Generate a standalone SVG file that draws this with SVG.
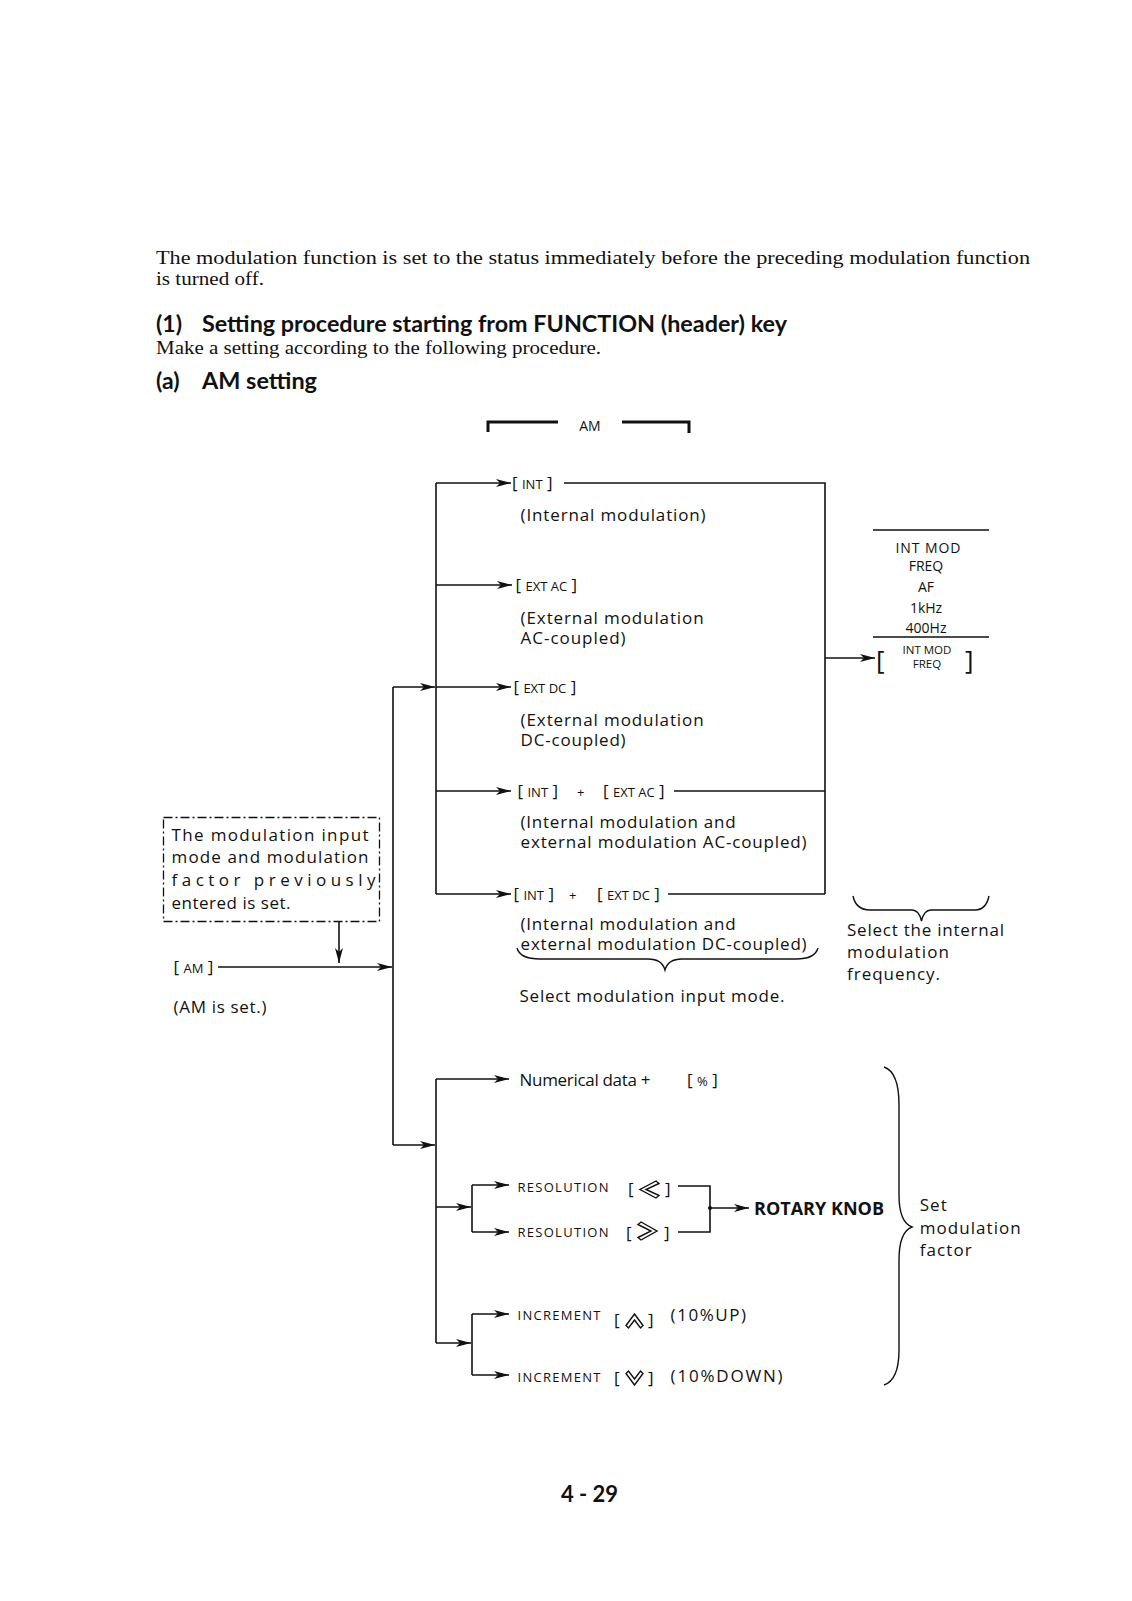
<svg xmlns="http://www.w3.org/2000/svg" width="1132" height="1601" viewBox="0 0 1132 1601">
<style>
.t{font-family:"Open Sans","Liberation Sans",sans-serif;font-size:17px;font-weight:500;fill:#111}
.sm{font-size:13px}
.tab{font-family:"Open Sans","Liberation Sans",sans-serif;font-size:14px;fill:#111}
.tab2{font-family:"Open Sans","Liberation Sans",sans-serif;font-size:11.5px;fill:#111}
.big{font-size:26px}
.serif{font-family:"Liberation Serif",serif;font-size:18.5px;fill:#111}
.h{font-family:Lato,"Liberation Sans",sans-serif;font-weight:bold;font-size:23px;fill:#111}
.pg{font-size:22px}
.bold{font-family:"Open Sans","Liberation Sans",sans-serif;font-weight:bold;font-size:18px;fill:#111}
.ln{stroke:#111;stroke-width:1.6;fill:none}
.br{stroke:#111;stroke-width:1.4;fill:none}
.ic{stroke:#111;stroke-width:1.4;fill:none;stroke-linejoin:miter}
.arr{marker-end:url(#ah)}
.thick{stroke:#111;stroke-width:3;fill:none}
.dd{stroke:#111;stroke-width:1.3;fill:none;stroke-dasharray:9 3 2 3}
</style>
<defs>
<marker id="ah" markerUnits="userSpaceOnUse" markerWidth="16" markerHeight="10" viewBox="0 0 16 10" refX="15" refY="5" orient="auto"><path d="M0,1 L15,5 L0,9 L4,5 Z" fill="#111"/></marker>
</defs>
<rect width="1132" height="1601" fill="#fff"/>

<g id="intro">
<text class="serif" x="156" y="264" textLength="874" lengthAdjust="spacingAndGlyphs">The modulation function is set to the status immediately before the preceding modulation function</text>
<text class="serif" x="156" y="285" textLength="108" lengthAdjust="spacingAndGlyphs">is turned off.</text>
</g>
<g id="heading-1">
<text class="h" x="156" y="332">(1)</text>
<text class="h" x="202" y="332" textLength="585" lengthAdjust="spacingAndGlyphs">Setting procedure starting from FUNCTION (header) key</text>
<text class="serif" x="156" y="354" textLength="445" lengthAdjust="spacingAndGlyphs">Make a setting according to the following procedure.</text>
</g>
<g id="heading-a">
<text class="h" x="156" y="389">(a)</text>
<text class="h" x="202" y="389" textLength="115" lengthAdjust="spacingAndGlyphs">AM setting</text>
</g>

<g id="am-header">
<path class="thick" d="M488,432 V422 H558 M622,422 H689 V433"/>
<text class="tab" x="590" y="431" text-anchor="middle">AM</text>
</g>

<g id="connectors">
<path class="ln" d="M436,483 V894"/>
<path class="ln arr" d="M436,483 H511"/>
<path class="ln" d="M564,483 H825 V894"/>
<path class="ln" d="M674,791 H825"/>
<path class="ln" d="M668,894 H825"/>
<path class="ln arr" d="M825,658 H875"/>
<path class="ln arr" d="M436,585 H512"/>
<path class="ln arr" d="M393,687 H435"/>
<path class="ln arr" d="M436,687 H511"/>
<path class="ln arr" d="M436,791 H511"/>
<path class="ln arr" d="M436,894 H511"/>
<path class="ln" d="M393,687 V1145"/>
<path class="ln arr" d="M218,967 H392"/>
<path class="ln arr" d="M339,922 V963"/>
<path class="ln arr" d="M393,1145 H435"/>
<path class="ln" d="M436,1079 V1343"/>
<path class="ln arr" d="M436,1079 H509"/>
<path class="ln arr" d="M436,1207 H471"/>
<path class="ln" d="M472,1185 V1232"/>
<path class="ln arr" d="M472,1185 H509"/>
<path class="ln arr" d="M472,1232 H509"/>
<path class="ln" d="M678,1186 H710 V1232 H678"/>
<circle cx="710" cy="1208" r="2" fill="#111"/>
<path class="ln arr" d="M710,1208 H749"/>
<path class="ln arr" d="M436,1343 H471"/>
<path class="ln" d="M472,1314 V1375"/>
<path class="ln arr" d="M472,1314 H509"/>
<path class="ln arr" d="M472,1375 H509"/>
</g>

<g id="n-int">
<text class="t" x="512" y="489">[ <tspan class="sm">INT</tspan> ]</text>
<text class="t" x="520.6" y="521" textLength="185" lengthAdjust="spacing">(Internal modulation)</text>
</g>
<g id="n-ext-ac">
<text class="t" x="515.5" y="591">[ <tspan class="sm">EXT AC</tspan> ]</text>
<text class="t" x="520.6" y="624" textLength="183" lengthAdjust="spacing">(External modulation</text>
<text class="t" x="520.6" y="644" textLength="105" lengthAdjust="spacing">AC-coupled)</text>
</g>
<g id="n-ext-dc">
<text class="t" x="513.4" y="693">[ <tspan class="sm">EXT DC</tspan> ]</text>
<text class="t" x="520.6" y="726" textLength="183" lengthAdjust="spacing">(External modulation</text>
<text class="t" x="520.6" y="746" textLength="105" lengthAdjust="spacing">DC-coupled)</text>
</g>
<g id="n-int-ext-ac">
<text class="t" x="517.5" y="797">[ <tspan class="sm">INT</tspan> ]</text>
<text class="t sm" x="577" y="797">+</text>
<text class="t" x="603" y="797">[ <tspan class="sm">EXT AC</tspan> ]</text>
<text class="t" x="520.6" y="828" textLength="215" lengthAdjust="spacing">(Internal modulation and</text>
<text class="t" x="520.6" y="848" textLength="286" lengthAdjust="spacing">external modulation AC-coupled)</text>
</g>
<g id="n-int-ext-dc">
<text class="t" x="513.4" y="900">[ <tspan class="sm">INT</tspan> ]</text>
<text class="t sm" x="569" y="900">+</text>
<text class="t" x="597" y="900">[ <tspan class="sm">EXT DC</tspan> ]</text>
<text class="t" x="520.6" y="930" textLength="215" lengthAdjust="spacing">(Internal modulation and</text>
<text class="t" x="520.6" y="950" textLength="286" lengthAdjust="spacing">external modulation DC-coupled)</text>
</g>
<g id="brace-mode">
<path class="br" d="M517,948 Q520,959 540,959 L648,959 Q662,959 665,970 Q668,959 682,959 L796,959 Q815,959 818,948"/>
<text class="t" x="519.5" y="1002" textLength="265" lengthAdjust="spacing">Select modulation input mode.</text>
</g>

<g id="freq-table">
<path class="ln" d="M873,530 H989 M873,637 H989"/>
<text class="tab" x="928" y="553" text-anchor="middle" textLength="65" lengthAdjust="spacing">INT MOD</text>
<text class="tab" x="926" y="571" text-anchor="middle">FREQ</text>
<text class="tab" x="926" y="592" text-anchor="middle">AF</text>
<text class="tab" x="926" y="613" text-anchor="middle">1kHz</text>
<text class="tab" x="926" y="633" text-anchor="middle">400Hz</text>
</g>
<g id="n-int-mod-freq">
<text class="t big" x="876" y="669">[</text>
<text class="tab2" text-anchor="middle"><tspan x="927" y="654">INT MOD</tspan><tspan x="927" y="668">FREQ</tspan></text>
<text class="t big" x="965" y="669">]</text>
</g>
<g id="brace-freq">
<path class="br" d="M853,896 Q856,910 870,910 L912,910 Q919,910 921.5,921 Q924,910 931,910 L975,910 Q986,910 989,896"/>
<text class="t" x="847" y="936" textLength="157" lengthAdjust="spacing">Select the internal</text>
<text class="t" x="847" y="958" textLength="102" lengthAdjust="spacing">modulation</text>
<text class="t" x="847" y="980" textLength="93" lengthAdjust="spacing">frequency.</text>
</g>

<g id="note-box">
<rect class="dd" x="163.5" y="817.5" width="216" height="104"/>
<text class="t" x="171.5" y="841" textLength="197" lengthAdjust="spacing">The modulation input</text>
<text class="t" x="171.5" y="863" textLength="197" lengthAdjust="spacing">mode and modulation</text>
<text class="t" x="171.5" y="886" textLength="204" lengthAdjust="spacing">factor previously</text>
<text class="t" x="171.5" y="909" textLength="119" lengthAdjust="spacing">entered is set.</text>
</g>
<g id="n-am">
<text class="t" x="173.5" y="973">[ <tspan class="sm">AM</tspan> ]</text>
<text class="t" x="173.5" y="1013" textLength="93" lengthAdjust="spacing">(AM is set.)</text>
</g>

<g id="n-numerical">
<text class="t" x="519.5" y="1086" textLength="131" lengthAdjust="spacing">Numerical data +</text>
<text class="t" x="687" y="1086">[ <tspan class="sm">%</tspan> ]</text>
</g>
<g id="n-res-left">
<text class="t sm" x="517.5" y="1192" textLength="91" lengthAdjust="spacing">RESOLUTION</text>
<text class="t" x="628" y="1195">[</text>
<path class="ic" d="M656,1181 L640,1189.5 L656,1198 L659,1195.5 L646,1189.5 L659,1183.5 Z"/>
<text class="t" x="665" y="1195">]</text>
</g>
<g id="n-res-right">
<text class="t sm" x="517.5" y="1237" textLength="91" lengthAdjust="spacing">RESOLUTION</text>
<text class="t" x="626" y="1239">[</text>
<path class="ic" d="M641,1222 L657,1231 L641,1240 L638,1237.5 L651,1231 L638,1224.5 Z"/>
<text class="t" x="664" y="1239">]</text>
</g>
<g id="n-rotary">
<text class="bold" x="754" y="1215" textLength="130" lengthAdjust="spacingAndGlyphs">ROTARY KNOB</text>
</g>
<g id="n-inc-up">
<text class="t sm" x="517.5" y="1320" textLength="83" lengthAdjust="spacing">INCREMENT</text>
<text class="t" x="614" y="1326">[</text>
<path class="ic" d="M626,1325.5 L634.5,1314 L643,1325.5 L640.5,1328 L634.5,1320 L628.5,1328 Z"/>
<text class="t" x="648" y="1326">]</text>
<text class="t" x="670.6" y="1321" textLength="75.5" lengthAdjust="spacing">(10%UP)</text>
</g>
<g id="n-inc-down">
<text class="t sm" x="517.5" y="1382" textLength="83" lengthAdjust="spacing">INCREMENT</text>
<text class="t" x="614" y="1384">[</text>
<path class="ic" d="M626,1373.5 L634.5,1385 L643,1373.5 L640.5,1371 L634.5,1379 L628.5,1371 Z"/>
<text class="t" x="648" y="1384">]</text>
<text class="t" x="670.6" y="1382" textLength="112" lengthAdjust="spacing">(10%DOWN)</text>
</g>
<g id="brace-factor">
<path class="br" d="M884,1067 Q899,1072 899,1105 L899,1195 Q899,1222 912,1227 Q899,1232 899,1260 L899,1350 Q899,1380 884,1385"/>
<text class="t" x="919.7" y="1211" textLength="27" lengthAdjust="spacing">Set</text>
<text class="t" x="919.7" y="1234" textLength="101" lengthAdjust="spacing">modulation</text>
<text class="t" x="919.7" y="1256" textLength="52" lengthAdjust="spacing">factor</text>
</g>

<g id="page-number">
<text class="h pg" x="589.5" y="1502" text-anchor="middle">4 - 29</text>
</g>
</svg>
